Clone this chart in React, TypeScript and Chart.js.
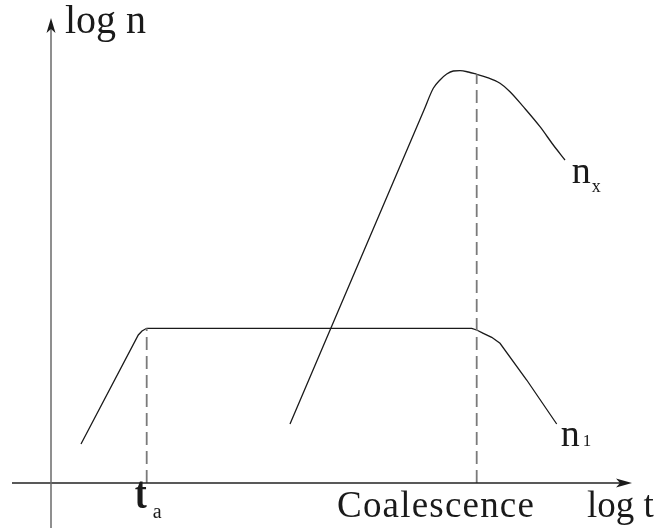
import React, { useEffect, useRef } from "react";
import { Chart, registerables } from "chart.js";

Chart.register(...registerables);

// Schematic: log n versus log t for monomers (n1) and stable clusters (nx).
// Units are arbitrary; the origin is where the two axes cross.

// n1 curve (monomer density)
const n1T = [30, 87.3, 91, 95.7, 420.7, 425.7, 432.3, 440.7, 449, 475.7, 505.7];
const n1Log = [39, 148, 152, 154.7, 154.7, 153, 149.7, 145.7, 139.7, 103, 59];

// nx curve (stable cluster density)
const nxT = [239, 373, 382.3, 389, 395.7, 402.3, 409, 417.3, 425.7, 435.7, 449, 459, 472.3, 489, 502.3, 514];
const nxLog = [59, 373, 394.7, 403, 409, 412, 412.3, 411, 408.7, 405.7, 399.7, 391.3, 376.3, 356.3, 338, 323];

// characteristic times: end of nucleation (t_a) and onset of coalescence
const markT = [95.7, 425.7];
const markTop = [154.7, 408.7];

const serif = '"Liberation Serif", "Times New Roman", serif';

const toPts = (xs: number[], ys: number[]) => xs.map((x, i) => ({ x, y: ys[i] }));

const decorations = {
  id: "decorations",
  afterDraw(chart: any) {
    const { ctx } = chart;
    const sx = chart.scales.x;
    const sy = chart.scales.y;
    const px = (v: number) => sx.getPixelForValue(v);
    const py = (v: number) => sy.getPixelForValue(v);
    ctx.save();

    // horizontal axis (log t)
    const y0 = py(0);
    const xTip = px(581);
    ctx.strokeStyle = "#222";
    ctx.lineWidth = 1.5;
    ctx.beginPath();
    ctx.moveTo(px(-39), y0);
    ctx.lineTo(xTip - 12, y0);
    ctx.stroke();
    ctx.fillStyle = "#1a1a1a";
    ctx.beginPath();
    ctx.moveTo(xTip, y0);
    ctx.lineTo(xTip - 16, y0 - 4.5);
    ctx.lineTo(xTip - 12, y0);
    ctx.lineTo(xTip - 16, y0 + 4.5);
    ctx.closePath();
    ctx.fill();

    // vertical axis (log n)
    const x0 = px(0);
    const yTip = py(465);
    ctx.strokeStyle = "#6a6a6a";
    ctx.lineWidth = 1.5;
    ctx.beginPath();
    ctx.moveTo(x0, py(-46));
    ctx.lineTo(x0, yTip + 10);
    ctx.stroke();
    ctx.fillStyle = "#1a1a1a";
    ctx.beginPath();
    ctx.moveTo(x0, yTip);
    ctx.lineTo(x0 - 4.5, yTip + 15);
    ctx.lineTo(x0, yTip + 11);
    ctx.lineTo(x0 + 4.5, yTip + 15);
    ctx.closePath();
    ctx.fill();

    // labels
    ctx.fillStyle = "#1a1a1a";
    ctx.textBaseline = "alphabetic";
    ctx.textAlign = "left";
    ctx.font = `40px ${serif}`;
    ctx.fillText("log n", x0 + 14, py(450));

    ctx.font = `37px ${serif}`;
    (ctx as any).letterSpacing = "1.2px";
    ctx.fillText("Coalescence", px(286), py(-34));
    (ctx as any).letterSpacing = "0px";
    ctx.fillText("log t", px(536), py(-34));

    // t_a (tall t sitting on the axis)
    ctx.save();
    ctx.translate(px(markT[0]) - 6, py(-25));
    ctx.scale(1, 1.3);
    ctx.textAlign = "center";
    ctx.font = `bold 36px ${serif}`;
    ctx.fillText("t", 0, 0);
    ctx.restore();
    ctx.textAlign = "left";
    ctx.font = `20px ${serif}`;
    ctx.fillText("a", px(markT[0]) + 6, py(-35));

    // curve names
    ctx.font = `38px ${serif}`;
    ctx.fillText("n", px(520.7), py(299.7));
    ctx.font = `18px ${serif}`;
    ctx.fillText("x", px(540.7), py(291.3));

    ctx.font = `38px ${serif}`;
    ctx.fillText("n", px(509.7), py(37));
    ctx.font = `17px ${serif}`;
    ctx.fillText("1", px(531.7), py(37));

    ctx.restore();
  },
};

export default function App() {
  const ref = useRef<HTMLCanvasElement | null>(null);

  useEffect(() => {
    if (!ref.current) return;
    const dashed = (i: number) => ({
      data: [
        { x: markT[i], y: 0 },
        { x: markT[i], y: markTop[i] },
      ],
      borderColor: "#7a7a7a",
      borderWidth: 1.8,
      borderDash: [13, 6],
      pointRadius: 0,
      tension: 0,
    });
    const chart = new Chart(ref.current, {
      type: "line",
      data: {
        datasets: [
          dashed(0),
          dashed(1),
          {
            data: toPts(n1T, n1Log),
            borderColor: "#1a1a1a",
            borderWidth: 1.3,
            pointRadius: 0,
            tension: 0,
          },
          {
            data: toPts(nxT, nxLog),
            borderColor: "#1a1a1a",
            borderWidth: 1.3,
            pointRadius: 0,
            cubicInterpolationMode: "monotone",
          },
        ],
      },
      options: {
        animation: false,
        responsive: false,
        maintainAspectRatio: false,
        layout: { padding: 0 },
        plugins: { legend: { display: false }, tooltip: { enabled: false } },
        scales: {
          x: { type: "linear", min: -51, max: 613, display: false },
          y: { type: "linear", min: -45, max: 483, display: false },
        },
      },
      plugins: [decorations],
    });
    return () => chart.destroy();
  }, []);

  return (
    <div style={{ position: "absolute", left: 0, top: 0, width: 664, height: 528, background: "#fff" }}>
      <canvas ref={ref} width={664} height={528} />
    </div>
  );
}
